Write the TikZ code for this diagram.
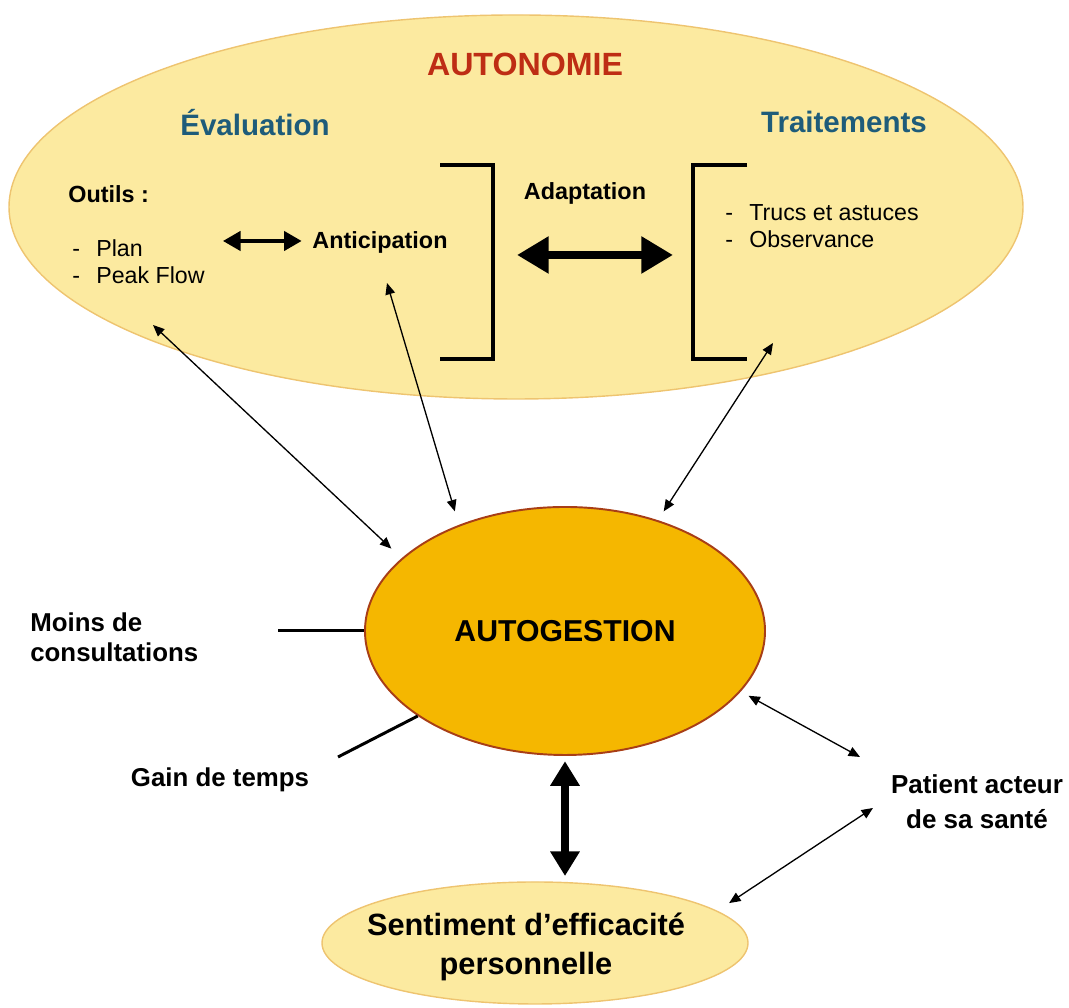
\documentclass[tikz,border=0pt]{standalone}
\usepackage{fontspec}
\setmainfont{Liberation Sans}
\usetikzlibrary{shapes.geometric,arrows.meta}
\definecolor{paleyel}{RGB}{252,234,160}
\definecolor{bubbleline}{RGB}{238,196,112}
\definecolor{coreorange}{RGB}{245,183,0}
\definecolor{coreline}{RGB}{168,62,22}
\definecolor{autored}{RGB}{190,45,20}
\definecolor{headteal}{RGB}{30,92,122}

\begin{document}
\begin{tikzpicture}[bubble/.style={ellipse, draw=bubbleline, line width=0.8pt, fill=paleyel, inner sep=0pt}, core/.style={ellipse, draw=coreline, line width=1.1pt, fill=coreorange, inner sep=0pt, font=\fontsize{17.2}{20}\selectfont\bfseries}, title/.style={inner sep=0pt, font=\fontsize{18.3}{22}\selectfont\bfseries, text=autored}, head/.style={inner sep=0pt, font=\fontsize{16.8}{20}\selectfont\bfseries, text=headteal}, lbl/.style={inner sep=0pt, font=\fontsize{13.3}{15.3}\selectfont\bfseries}, item/.style={inner sep=0pt, align=left, font=\fontsize{13.2}{15.3}\selectfont}, side/.style={inner sep=0pt, font=\fontsize{14.7}{17}\selectfont\bfseries}, arr/.style={{Triangle[length=6.5pt,width=5.5pt]}-{Triangle[length=6.5pt,width=5.5pt]}, line width=0.75pt}, midarr/.style={{Triangle[length=10pt,width=11pt]}-{Triangle[length=10pt,width=11pt]}, line width=1.9pt}, bigarr/.style={{Triangle[length=18pt,width=20pt]}-{Triangle[length=18pt,width=20pt]}, line width=4.5pt}, brace/.style={line width=1.8pt}, stub/.style={line width=1.7pt}]
\useasboundingbox (0,0) rectangle (21.38,20.16);
\node[bubble, minimum width=20.28cm, minimum height=7.68cm] (autonomie) at (10.32,16.02) {};
\node[bubble, minimum width=8.52cm, minimum height=2.44cm] (sent) at (10.70,1.30) {};
\node[core, minimum width=8.0cm, minimum height=4.96cm] (autog) at (11.30,7.54) {AUTOGESTION};
\node[title] (autotitle) at (10.50,18.88) {AUTONOMIE}; \node[head] (evalhead) at (5.10,17.70) {Évaluation}; \node[head] (traithead) at (16.88,17.72) {Traitements};
\node[lbl, anchor=west] (outils) at (1.36,16.28) {Outils :}; \node[item, anchor=west] (toollist) at (1.44,14.93) {-\hspace{0.7em}Plan\\-\hspace{0.7em}Peak Flow}; \node[lbl] (antic) at (7.60,15.32) {Anticipation}; \node[lbl] (adapt) at (11.70,16.30) {Adaptation}; \node[item, anchor=west] (traitlist) at (14.50,15.63) {-\hspace{0.7em}Trucs et astuces\\-\hspace{0.7em}Observance};
\node[side, align=left, anchor=west] (moins) at (0.60,7.42) {Moins de\\consultations}; \node[side] (gain) at (4.40,4.56) {Gain de temps}; \node[side, align=center, font=\fontsize{14.8}{19.8}\selectfont\bfseries] (patient) at (19.54,4.12) {Patient acteur\\de sa santé}; \node[inner sep=0pt, align=center, font=\fontsize{17.5}{22}\selectfont\bfseries] (senttxt) at (10.52,1.22) {Sentiment d’efficacité\\personnelle};
\coordinate (brLa) at (8.80,16.86); \coordinate (brLb) at (9.86,12.98); \coordinate (brRa) at (14.94,16.86); \coordinate (brRb) at (13.86,12.98); \coordinate (adL) at (10.34,15.06); \coordinate (adR) at (13.46,15.06); \coordinate (toolsend) at (4.46,15.34);
\coordinate (evalend) at (3.06,13.66); \coordinate (anticend) at (7.74,14.50); \coordinate (traitend) at (15.46,13.30); \coordinate (moinsend) at (5.56,7.54); \coordinate (gainend) at (6.76,5.02); \coordinate (patup) at (17.20,5.02); \coordinate (patlow) at (17.46,4.00);
\draw[brace] (brLa) -| (brLb) -- (brLb -| brLa); \draw[brace] (brRa) -| (brRb) -- (brRb -| brRa);
\draw[midarr, shorten >=6pt] (toolsend) -- (toolsend -| antic.west); \draw[bigarr] (adL) -- (adR);
\draw[arr, shorten >=8pt] (evalend) -- (autog.156); \draw[arr, shorten >=8pt] (anticend) -- (autog.135); \draw[arr, shorten >=6pt] (traitend) -- (autog.50);
\draw[stub] (moinsend) -- (autog.west); \draw[stub] (gainend) -- (autog.210);
\draw[arr, shorten <=5pt] (autog.-19) -- (patup); \draw[arr, shorten >=8pt] (patlow) -- (sent.10);
\draw[bigarr, line width=4pt, {Triangle[length=14pt,width=16pt]}-{Triangle[length=14pt,width=16pt]}, shorten <=3pt, shorten >=3pt] (autog.south) -- (autog.south |- sent.north);
\end{tikzpicture}
\end{document}
